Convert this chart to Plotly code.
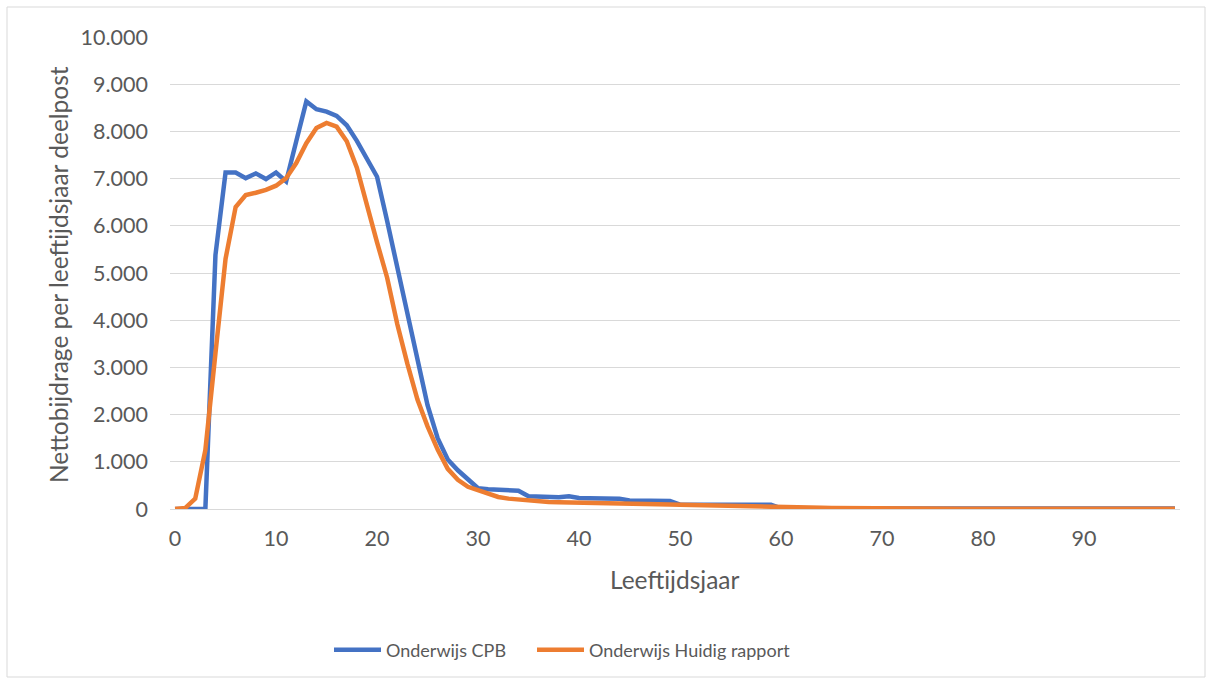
import plotly.graph_objects as go

ages = list(range(100))

onderwijs_cpb = [
    0, 0, 0, 0, 5380, 7130, 7130, 7010, 7110, 6990,
    7130, 6940, 7790, 8635, 8470, 8420, 8330, 8130, 7800, 7440,
    7040, 6100, 5100, 4100, 3200, 2200, 1500, 1050, 820, 630,
    440, 420, 410, 400, 385, 270, 260, 255, 250, 270,
    235, 230, 225, 220, 215, 180, 175, 175, 175, 170,
    95, 95, 95, 95, 95, 95, 95, 95, 95, 90,
    15, 12, 10, 10, 10, 10, 10, 10, 10, 10,
    10, 10, 10, 10, 10, 10, 10, 10, 10, 10,
    10, 10, 10, 10, 10, 10, 10, 10, 10, 10,
    10, 10, 10, 10, 10, 10, 10, 10, 10, 10,
]

onderwijs_huidig = [
    0, 20, 220, 1245, 3300, 5300, 6400, 6650, 6700, 6760,
    6850, 7010, 7330, 7750, 8070, 8180, 8100, 7790, 7230, 6420,
    5650, 4900, 3920, 3080, 2320, 1750, 1260, 850, 620, 470,
    390, 310, 255, 220, 198, 176, 162, 150, 141, 135,
    128, 123, 119, 115, 111, 108, 104, 100, 97, 94,
    91, 88, 85, 82, 79, 75, 71, 67, 63, 58,
    50, 42, 35, 29, 24, 20, 17, 15, 13, 12,
    11, 10, 9, 8, 7, 6, 6, 5, 5, 5,
    5, 5, 5, 5, 5, 5, 5, 5, 5, 5,
    5, 5, 5, 5, 5, 5, 5, 5, 5, 5,
]

x_ticks = [0, 10, 20, 30, 40, 50, 60, 70, 80, 90]
y_ticks = [0, 1000, 2000, 3000, 4000, 5000, 6000, 7000, 8000, 9000, 10000]

FONT = "Lato"
TXT = "#595959"
GRID = "#d9d9d9"

fig = go.Figure()
fig.add_trace(go.Scatter(x=ages, y=onderwijs_cpb, mode="lines", name="Onderwijs CPB",
                         line=dict(color="#4472C4", width=4.5), legend="legend"))
fig.add_trace(go.Scatter(x=ages, y=onderwijs_huidig, mode="lines", name="Onderwijs Huidig rapport",
                         line=dict(color="#ED7D31", width=4.5), legend="legend2"))

W, H = 1212, 684
L, R, T, B = 170, 32, 37, 175
pw, ph = W - L - R, H - T - B

def px(x):
    return (x - L) / pw

def py(y):
    return (H - B - y) / ph

legend_common = dict(orientation="h", xanchor="left", y=py(650), yanchor="middle",
                     font=dict(family=FONT, color=TXT, size=18), itemwidth=47,
                     bgcolor="rgba(0,0,0,0)")

fig.update_layout(
    width=W, height=H,
    margin=dict(l=L, r=R, t=T, b=B, autoexpand=False),
    paper_bgcolor="white", plot_bgcolor="white",
    separators=",.",
    font=dict(family=FONT, color=TXT, size=20),
    showlegend=True,
    legend=dict(x=px(329), **legend_common),
    legend2=dict(x=px(532), **legend_common),
    xaxis=dict(range=[-0.5, 99.5], tickmode="array", tickvals=x_ticks,
               showgrid=False, zeroline=False, showline=False, ticks="",
               tickfont=dict(family=FONT, color=TXT, size=21.5), ticklabelstandoff=14,
               fixedrange=True),
    yaxis=dict(range=[0, 10000], tickmode="array", tickvals=y_ticks, tickformat=",.0f",
               showgrid=True, gridcolor=GRID, gridwidth=1,
               zeroline=True, zerolinecolor=GRID, zerolinewidth=1,
               showline=False, ticks="", tickfont=dict(family=FONT, color=TXT, size=21.5),
               ticklabelstandoff=21, fixedrange=True),
    shapes=[dict(type="rect", xref="paper", yref="paper",
                 x0=px(7), x1=px(1205), y0=py(677), y1=py(7),
                 line=dict(color=GRID, width=1), fillcolor="rgba(0,0,0,0)", layer="below")],
    annotations=[
        dict(text="Leeftijdsjaar", xref="paper", yref="paper", x=px(675), y=py(579),
             xanchor="center", yanchor="middle", showarrow=False,
             font=dict(family=FONT, color=TXT, size=24.5)),
        dict(text="Nettobijdrage per leeftijdsjaar deelpost", xref="paper", yref="paper",
             x=px(58), y=py(275), xanchor="center", yanchor="middle", textangle=-90,
             showarrow=False, font=dict(family=FONT, color=TXT, size=24.5)),
    ],
)

fig.write_html("out.html")
